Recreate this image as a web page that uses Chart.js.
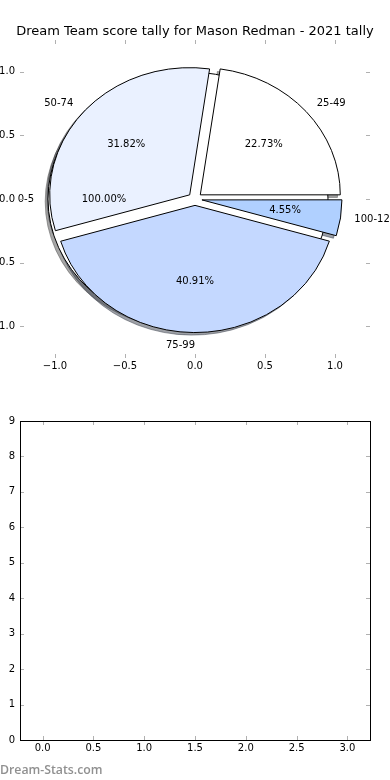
<!DOCTYPE html>
<html lang="en">
<head>
<meta charset="UTF-8">
<title>Dream Team score tally - Mason Redman</title>
<style>
    body { margin: 0; background: #fff; }
    .wrap { position: relative; width: 390px; height: 780px; overflow: hidden; }
    .wrap canvas { position: absolute; left: 0; }
    #pieChart { top: 0; }
    #emptyChart { top: 390px; }
    .credit {
        position: absolute; left: 0; top: 762px;
        font: 600 12.3px 'Open Sans', sans-serif; line-height: 16px;
        color: #909090;
    }
</style>
</head>
<body>
<div class="wrap">
    <canvas id="pieChart" width="390" height="390"></canvas>
    <canvas id="emptyChart" width="390" height="390"></canvas>
    <div class="credit">Dream-Stats.com</div>
</div>

<script src="https://cdn.jsdelivr.net/npm/chart.js@4.4.0/dist/chart.umd.min.js"></script>
<script>
// score bands and the share printed on each wedge
const sliceLabels = ['0-5', '25-49', '50-74', '75-99', '100-124'];
const slicePercents = [100.00, 22.73, 31.82, 40.91, 4.55];

const pieTicks = [-1.0, -0.5, 0.0, 0.5, 1.0];
const emptyXTicks = [0.0, 0.5, 1.0, 1.5, 2.0, 2.5, 3.0];
const emptyYTicks = [0, 1, 2, 3, 4, 5, 6, 7, 8, 9];

const sliceColors = ['#ffffff', '#ffffff', '#eaf1ff', '#c4d8ff', '#b0d0ff'];
const EXPLODE = 0.05;
const SHADOW = 0.02;
const TICK_GREY = '#b0b0b0';

Chart.defaults.font.family = "'DejaVu Sans', sans-serif";
Chart.defaults.font.size = 10;
Chart.defaults.color = '#000';

function fmt1(v) {
    return v.toFixed(1).replace('-', '\u2212');
}

function shade(hex) {
    const n = parseInt(hex.slice(1), 16);
    const r = ((n >> 16) & 255) * 0.3, g = ((n >> 8) & 255) * 0.3, b = (n & 255) * 0.3;
    return 'rgba(' + r + ',' + g + ',' + b + ',0.5)';
}

// matplotlib style: short grey ticks pointing into the axes on all four sides
const innerTicks = {
    id: 'innerTicks',
    afterDraw(chart) {
        const {ctx, chartArea: a, scales: {x, y}} = chart;
        ctx.save();
        ctx.strokeStyle = TICK_GREY;
        ctx.lineWidth = 1;
        ctx.beginPath();
        x.ticks.forEach((t, i) => {
            const p = Math.round(x.getPixelForTick(i)) + 0.5;
            ctx.moveTo(p, a.top); ctx.lineTo(p, a.top + 4);
            ctx.moveTo(p, a.bottom); ctx.lineTo(p, a.bottom - 4);
        });
        y.ticks.forEach((t, i) => {
            const p = Math.round(y.getPixelForTick(i)) + 0.5;
            ctx.moveTo(a.left, p); ctx.lineTo(a.left + 4, p);
            ctx.moveTo(a.right, p); ctx.lineTo(a.right - 4, p);
        });
        ctx.stroke();
        ctx.restore();
    }
};

const frameBox = {
    id: 'frameBox',
    afterDraw(chart) {
        const {ctx, chartArea: a} = chart;
        ctx.save();
        ctx.strokeStyle = '#000';
        ctx.lineWidth = 1;
        ctx.strokeRect(Math.round(a.left) + 0.5, Math.round(a.top) + 0.5,
            Math.round(a.right - a.left), Math.round(a.bottom - a.top));
        ctx.restore();
    }
};

// exploded pie with shadows, drawn in data units of the x/y scales
const pieWedges = {
    id: 'pieWedges',
    afterDatasetsDraw(chart) {
        const {ctx, scales: {x, y}} = chart;
        const px = v => x.getPixelForValue(v);
        const py = v => y.getPixelForValue(v);
        const rx = px(1) - px(0);
        const ry = py(0) - py(1);
        const rad = Math.PI / 180;

        let start = 0;
        const wedges = slicePercents.map((p, i) => {
            const t1 = start % 360;
            const t2 = t1 + p * 3.6;
            start += p * 3.6;
            const mid = (t1 + t2) / 2 * rad;
            return {
                i, t1: t1 * rad, t2: t2 * rad, mid, full: p >= 100,
                ox: EXPLODE * Math.cos(mid), oy: EXPLODE * Math.sin(mid)
            };
        });

        const path = (w, dx, dy) => {
            const cx = px(w.ox + dx), cy = py(w.oy + dy);
            ctx.beginPath();
            if (w.full) {
                ctx.ellipse(cx, cy, rx, ry, 0, 0, Math.PI * 2);
            } else {
                ctx.moveTo(cx, cy);
                ctx.ellipse(cx, cy, rx, ry, 0, -w.t1, -w.t2, true);
                ctx.closePath();
            }
        };

        ctx.save();
        ctx.lineWidth = 1;
        wedges.forEach(w => {
            path(w, -SHADOW, -SHADOW);
            ctx.fillStyle = shade(sliceColors[w.i]);
            ctx.strokeStyle = ctx.fillStyle;
            ctx.fill();
            ctx.stroke();
        });
        wedges.forEach(w => {
            path(w, 0, 0);
            ctx.fillStyle = sliceColors[w.i];
            ctx.strokeStyle = '#000';
            ctx.fill();
            ctx.stroke();
        });

        ctx.fillStyle = '#000';
        ctx.font = "10px 'DejaVu Sans', sans-serif";
        ctx.textBaseline = 'middle';
        wedges.forEach(w => {
            const lx = w.ox + 1.1 * Math.cos(w.mid);
            const ly = w.oy + 1.1 * Math.sin(w.mid);
            // near-zero x goes to the right-aligned side, as matplotlib did here
            ctx.textAlign = lx > 0.001 ? 'left' : 'right';
            ctx.fillText(sliceLabels[w.i], px(lx), py(ly));
            const tx = w.ox + 0.6 * Math.cos(w.mid);
            const ty = w.oy + 0.6 * Math.sin(w.mid);
            ctx.textAlign = 'center';
            ctx.fillText(slicePercents[w.i].toFixed(2) + '%', px(tx), py(ty));
        });
        ctx.restore();
    }
};

function fixedTicks(list) {
    return scale => { scale.ticks = list.map(v => ({value: v})); };
}

new Chart(document.getElementById('pieChart'), {
    type: 'scatter',
    data: { datasets: [] },
    plugins: [pieWedges, innerTicks],
    options: {
        responsive: false,
        animation: false,
        plugins: {
            legend: { display: false },
            tooltip: { enabled: false },
            title: {
                display: true,
                text: 'Dream Team score tally for Mason Redman - 2021 tally',
                color: '#000',
                font: { size: 13, weight: 'normal', lineHeight: 1.2 },
                padding: { top: 24, bottom: 0.4 }
            }
        },
        scales: {
            x: {
                type: 'linear', min: -1.25, max: 1.25,
                grid: { display: false, drawTicks: false },
                border: { display: false },
                afterBuildTicks: fixedTicks(pieTicks),
                afterFit: s => { s.height = 32; },
                ticks: { padding: 2, autoSkip: false, maxRotation: 0, callback: v => fmt1(v) }
            },
            y: {
                type: 'linear', min: -1.25, max: 1.25,
                grid: { display: false, drawTicks: false },
                border: { display: false },
                afterBuildTicks: fixedTicks(pieTicks),
                afterFit: s => { s.width = 20; },
                ticks: { padding: 5, autoSkip: false, callback: v => fmt1(v) }
            },
            yRight: {
                type: 'linear', position: 'right',
                grid: { display: false, drawTicks: false },
                border: { display: false },
                ticks: { display: false },
                afterFit: s => { s.width = 20; }
            }
        }
    }
});

new Chart(document.getElementById('emptyChart'), {
    type: 'scatter',
    data: { datasets: [] },
    plugins: [innerTicks, frameBox],
    options: {
        responsive: false,
        animation: false,
        layout: { padding: { top: 31 } },
        plugins: {
            legend: { display: false },
            tooltip: { enabled: false }
        },
        scales: {
            x: {
                type: 'linear', min: -0.2225, max: 3.2225,
                grid: { display: false, drawTicks: false },
                border: { display: false },
                afterBuildTicks: fixedTicks(emptyXTicks),
                afterFit: s => { s.height = 40; },
                ticks: { padding: 2, autoSkip: false, maxRotation: 0, callback: v => v.toFixed(1) }
            },
            y: {
                type: 'linear', min: 0, max: 9,
                grid: { display: false, drawTicks: false },
                border: { display: false },
                afterBuildTicks: fixedTicks(emptyYTicks),
                afterFit: s => { s.width = 20; },
                ticks: { padding: 5, autoSkip: false, callback: v => String(v) }
            },
            yRight: {
                type: 'linear', position: 'right',
                grid: { display: false, drawTicks: false },
                border: { display: false },
                ticks: { display: false },
                afterFit: s => { s.width = 20; }
            }
        }
    }
});
</script>
</body>
</html>
